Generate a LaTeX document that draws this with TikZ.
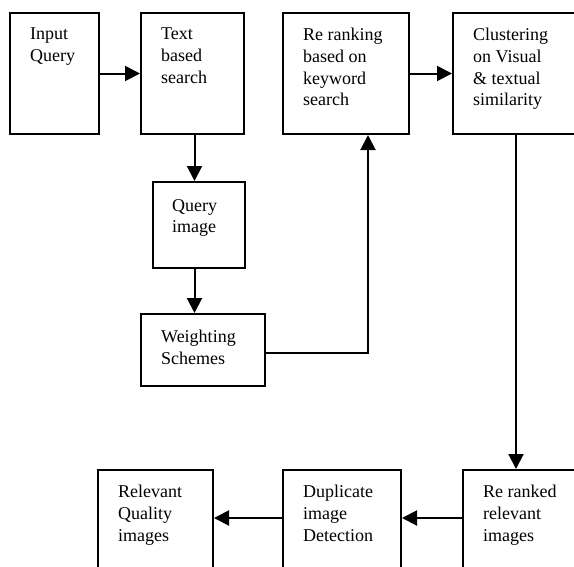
\documentclass[tikz,border=0pt]{standalone}
\usepackage{fontspec}
\setmainfont{Liberation Serif}
\usetikzlibrary{arrows.meta}

\tikzset{
  box/.style 2 args={draw, line width=2pt, anchor=north west, inner sep=0pt,
    minimum width=#1, minimum height=#2},
  txt/.style={anchor=north west, align=left, inner sep=0pt,
    font=\fontsize{18}{21.7}\selectfont, xshift=21pt, yshift=-16pt},
  flow/.style={line width=2pt, -{Triangle[length=15pt,width=15pt]}}
}

\begin{document}
\begin{tikzpicture}[x=1pt,y=-1pt]
    \useasboundingbox (0,0) rectangle (574,566);
    \clip (0,0) rectangle (574,566);
    %top row
    \node[box={89pt}{121pt}, label={[txt]north west:{Input\\Query}}] (inq) at (9,12) {};
    \node[box={103pt}{121pt}, label={[txt]north west:{Text\\based\\search}}] (tbs) at (140,12) {};
    \node[box={126pt}{121pt}, label={[txt]north west:{Re ranking\\based on\\keyword\\search}}] (rrk) at (282,12) {};
    \node[box={126pt}{121pt}, label={[txt]north west:{Clustering\\on Visual\\\& textual\\similarity}}] (clu) at (452,12) {};
    %middle column
    \node[box={92pt}{86pt}, label={[txt,xshift=-1pt,yshift=-2pt]north west:{Query\\image}}] (qimg) at (152,181) {};
    \node[box={124pt}{72pt}, label={[txt,yshift=-1pt]north west:{Weighting\\Schemes}}] (wts) at (140,313) {};
    %bottom row
    \node[box={115pt}{121pt}, label={[txt]north west:{Relevant\\Quality\\images}}] (rqi) at (97,469) {};
    \node[box={118pt}{121pt}, label={[txt]north west:{Duplicate\\image\\Detection}}] (dup) at (282,469) {};
    \node[box={120pt}{121pt}, label={[txt]north west:{Re ranked\\relevant\\images}}] (rer) at (462,469) {};
    \coordinate (tbsx) at ([xshift=2pt]tbs.south);
    \coordinate (rrkx) at ([xshift=22pt]rrk.south);
    \coordinate (wtsy) at ([yshift=-3pt]wts.east);
    \draw[flow] (inq) -- (tbs);
    \draw[flow] (rrk) -- (clu);
    \draw[flow] (tbsx) -- (tbsx |- qimg.north);
    \draw[flow] (tbsx |- qimg.south) -- (tbsx |- wts.north);
    \draw[flow] (wtsy) -| (rrkx);
    \draw[flow] ([xshift=0pt]clu.south) -- (clu.south |- rer.north);
    \draw[flow] ([yshift=-49pt]rer.north west) -- ([yshift=-49pt]dup.north east);
    \draw[flow] ([yshift=-49pt]dup.north west) -- ([yshift=-49pt]rqi.north east);
\end{tikzpicture}
\end{document}
